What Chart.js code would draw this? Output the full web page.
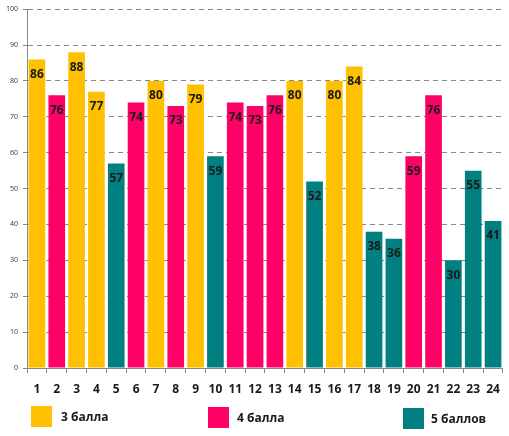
<!DOCTYPE html>
<html><head><meta charset="utf-8">
<script src="https://cdn.jsdelivr.net/npm/chart.js@4"></script>
<style>
html,body{margin:0;padding:0;background:#fff;}
#wrap{position:relative;width:509px;height:436px;}
canvas{position:absolute;left:0;top:0;}
.lg{position:absolute;font:bold 12px "Open Sans",sans-serif;color:#1a1a1a;}
.lg span.b{position:absolute;width:21px;height:21px;}
.lg span.t{position:absolute;white-space:nowrap;}
</style></head>
<body>
<div id="wrap">
<canvas id="c" width="509" height="436"></canvas>
</div>
<script>
const categories = ['1','2','3','4','5','6','7','8','9','10','11','12','13','14','15','16','17','18','19','20','21','22','23','24'];
const values = [86,76,88,77,57,74,80,73,79,59,74,73,76,80,52,80,84,38,36,59,76,30,55,41];
const groups = [3,4,3,3,5,4,3,4,3,5,4,4,4,3,5,3,3,5,5,4,4,5,5,5];
const seriesNames = ['3 балла','4 балла','5 баллов'];
const seriesGroups = [3,4,5];
const seriesColors = ['#FFC000','#FF0066','#008080'];
const yTicks = [0,10,20,30,40,50,60,70,80,90,100];

const datasets = seriesGroups.map((g,i)=>({
  label: seriesNames[i],
  data: values.map((v,k)=> groups[k]===g ? v : null),
  backgroundColor: seriesColors[i],
  borderWidth: 0,
  grouped: false,
  barPercentage: 0.84,
  categoryPercentage: 1.0
}));

const labelPlugin = {
  id:'vlabels',
  afterDatasetsDraw(chart){
    const ctx = chart.ctx;
    ctx.save();
    ctx.font = 'bold 12px "Open Sans", sans-serif';
    ctx.fillStyle = '#1a1a1a';
    ctx.textAlign = 'center';
    ctx.textBaseline = 'middle';
    chart.data.datasets.forEach((ds,di)=>{
      chart.getDatasetMeta(di).data.forEach((el,k)=>{
        if (ds.data[k]==null) return;
        ctx.fillText(String(ds.data[k]), el.x, el.y + 15);
      });
    });
    ctx.restore();
  }
};

new Chart(document.getElementById('c'), {
  type:'bar',
  data:{labels:categories, datasets},
  options:{
    responsive:false,
    animation:false,
    layout:{padding:{top:8,right:4,left:0,bottom:0}},
    plugins:{legend:{display:false},tooltip:{enabled:false}},
    scales:{
      x:{
        offset:true,
        grid:{display:true,drawOnChartArea:false,offset:true,tickLength:5,color:'#888'},
        border:{display:true,color:'#888',width:1},
        ticks:{font:{family:'"Open Sans", sans-serif',size:12,weight:'bold'},color:'#1a1a1a',padding:9,maxRotation:0,autoSkip:false},
        afterFit(s){ s.height = 68; }
      },
      y:{
        min:0,max:100,
        afterBuildTicks(s){ s.ticks = yTicks.map(v=>({value:v})); },
        grid:{color:(c)=> c.tick && c.tick.value===0 ? 'rgba(0,0,0,0)' : '#888',
              lineWidth:1, tickLength:4, borderDash:[5,4], tickBorderDash:[], drawTicks:true,
              tickColor:'#888'},
        border:{display:true,color:'#888',width:1,dash:[5,4]},
        ticks:{font:{family:'"Open Sans", sans-serif',size:7},color:'#333',padding:5},
        afterFit(s){ s.width = 27; }
      }
    }
  },
  plugins:[labelPlugin]
});
</script>
<div class="lg" style="position:absolute;left:0;top:0;width:509px;height:436px;pointer-events:none;">
  <span class="b" style="left:31px;top:406px;background:#FFC000"></span><span class="t" style="left:61px;top:408px">3 балла</span>
  <span class="b" style="left:208px;top:407px;background:#FF0066"></span><span class="t" style="left:237px;top:409px">4 балла</span>
  <span class="b" style="left:403px;top:408px;background:#008080"></span><span class="t" style="left:431px;top:410px">5 баллов</span>
</div>
</body></html>
